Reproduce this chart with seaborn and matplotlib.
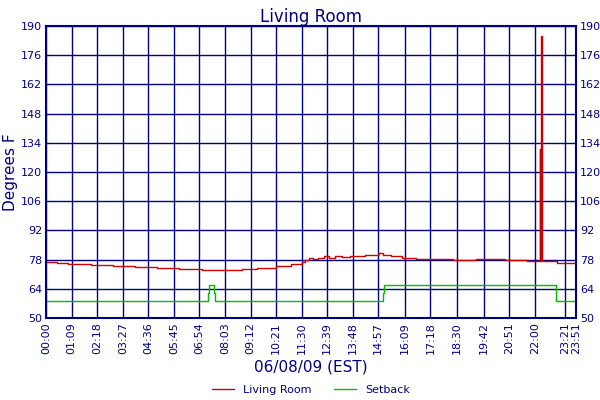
import matplotlib
matplotlib.use("Agg")
import matplotlib.pyplot as plt
import seaborn as sns
import pandas as pd

# minutes since midnight
room_t = [0, 30, 60, 120, 180, 240, 300, 360, 420, 480, 530, 570, 620, 660, 690,
          700, 710, 720, 735, 750, 765, 780, 800, 820, 840, 860, 880, 895, 900, 910,
          930, 960, 1000, 1040, 1100, 1160, 1200, 1240, 1300, 1330, 1333, 1335, 1337,
          1339, 1341, 1380, 1431]
room_v = [77.0, 76.5, 76.0, 75.5, 75.0, 74.5, 74.0, 73.5, 73.0, 73.0, 73.5, 74.0, 75.0,
          76.0, 77.0, 78.0, 79.0, 78.5, 79.0, 79.5, 78.8, 79.5, 79.2, 79.5, 79.8, 80.0,
          80.2, 80.5, 81.0, 80.0, 79.5, 79.0, 78.5, 78.5, 78.0, 78.5, 78.5, 78.0, 77.5,
          77.5, 131.0, 77.5, 185.0, 77.5, 77.5, 76.5, 76.5]
setback_t = [0, 437, 440, 452, 455, 910, 912, 1376, 1378, 1431]
setback_v = [58, 62, 66, 62, 58, 62, 66, 62, 58, 58]

tick_labels = ["00:00", "01:09", "02:18", "03:27", "04:36", "05:45", "06:54", "08:03",
               "09:12", "10:21", "11:30", "12:39", "13:48", "14:57", "16:09", "17:18",
               "18:30", "19:42", "20:51", "22:00", "23:21", "23:51"]
y_ticks = [50, 64, 78, 92, 106, 120, 134, 148, 162, 176, 190]

def to_min(s):
    h, m = s.split(":")
    return int(h) * 60 + int(m)

tick_pos = [to_min(s) for s in tick_labels]

navy = "#000080"
sns.set_style("white")
plt.rcParams['font.family'] = ['DejaVu Sans']

fig, ax = plt.subplots(figsize=(6, 4), dpi=100)
fig.subplots_adjust(left=0.077, right=0.96, top=0.935, bottom=0.205)

room = pd.DataFrame({"t": room_t, "v": room_v})
setb = pd.DataFrame({"t": setback_t, "v": setback_v})
sns.lineplot(data=room, x="t", y="v", ax=ax, color="#cc0000", lw=1.0,
             drawstyle="steps-post", label="Living Room")
sns.lineplot(data=setb, x="t", y="v", ax=ax, color="#00bb00", lw=1.0,
             drawstyle="steps-post", label="Setback")

ax.set_xlim(0, 1431)
ax.set_ylim(50, 190)
ax.set_xticks(tick_pos)
ax.set_xticklabels(tick_labels, rotation=90, fontsize=8, color=navy)
ax.set_yticks(y_ticks)
ax.set_yticklabels([str(v) for v in y_ticks], fontsize=8, color=navy)
ax.grid(True, color=navy, lw=1)
ax.set_axisbelow(True)
for sp in ax.spines.values():
    sp.set_color(navy)
    sp.set_linewidth(1.5)
ax.tick_params(axis="both", length=0, pad=3)
ax.tick_params(axis="y", right=True, labelright=True)

ax.set_title("Living Room", fontsize=12, color=navy, pad=3)
ax.set_xlabel("06/08/09 (EST)", fontsize=11, color=navy)
ax.set_ylabel("Degrees F", fontsize=11, color=navy, labelpad=2)

leg = ax.legend(loc="center", bbox_to_anchor=(0.5, -0.247), ncol=2,
                frameon=False, fontsize=8, handlelength=2, borderpad=0)
for txt in leg.get_texts():
    txt.set_color(navy)

fig.savefig("out.png", dpi=100)
